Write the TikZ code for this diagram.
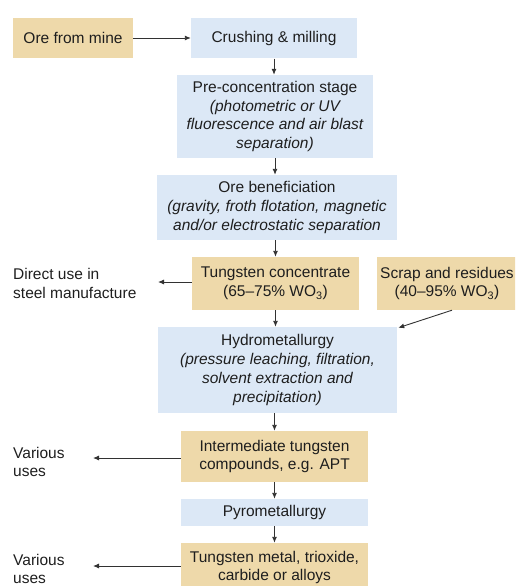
\documentclass[tikz,border=0pt]{standalone}
\usepackage{fontspec}
\setmainfont{Liberation Sans}
\usetikzlibrary{arrows.meta}
\definecolor{tan}{RGB}{238,217,170}
\definecolor{lblue}{RGB}{220,232,246}
\definecolor{ink}{RGB}{30,30,30}
\definecolor{arrowgray}{RGB}{50,50,50}
\begin{document}
\begin{tikzpicture}[x=1pt,y=-1pt,
  every node/.style={font=\fontsize{15.5}{18.8}\selectfont, text=ink},
  boxbase/.style={rectangle, inner sep=0pt, align=center},
  tanbox/.style={boxbase, fill=tan},
  bluebox/.style={boxbase, fill=lblue},
  plain/.style={inner sep=0pt, align=left, anchor=west},
  arr/.style={draw=arrowgray, line width=0.9pt, -{Latex[length=6pt,width=5pt]}}
]
\useasboundingbox (0,0) rectangle (515,586);
\clip (0,0) rectangle (515,586);

\node[tanbox, minimum width=120pt, minimum height=40pt] (ore) at (73,38) {Ore from mine};
\node[bluebox, minimum width=166pt, minimum height=40pt] (crush) at (274,38.5) {Crushing \& milling};
\node[bluebox, minimum width=196pt, minimum height=83pt] (pre) at (275,116.5)
  {Pre-concentration stage\\\itshape (photometric or UV\\\itshape fluorescence and air blast\\\itshape separation)};
\node[bluebox, minimum width=240pt, minimum height=65pt] (benef) at (277,207.5)
  {Ore beneficiation\\\itshape (gravity, froth flotation, magnetic\\\itshape and/or electrostatic separation};
\node[tanbox, minimum width=167pt, minimum height=53pt] (tconc) at (275.5,283.5)
  {Tungsten concentrate\\(65–75\% WO\textsubscript{3})};
\node[tanbox, minimum width=140pt, minimum height=53pt] (scrap) at (447,283.5)
  {Scrap and residues\\(40–95\% WO\textsubscript{3})};
\node[plain] (direct) at (13,283.7) {Direct use in\\steel manufacture};
\node[bluebox, minimum width=239pt, minimum height=86pt] (hydro) at (277.5,370)
  {Hydrometallurgy\\\itshape (pressure leaching, filtration,\\\itshape solvent extraction and\\\itshape precipitation)};
\node[tanbox, minimum width=187pt, minimum height=51pt] (inter) at (274.5,456.5)
  {Intermediate tungsten\\compounds, e.g. APT};
\node[plain] (var1) at (13,462) {Various\\uses};
\node[bluebox, minimum width=187pt, minimum height=27pt] (pyro) at (274.5,512.5) {Pyrometallurgy};
\node[tanbox, minimum width=187pt, minimum height=49pt] (metal) at (274.5,567.5)
  {Tungsten metal, trioxide,\\carbide or alloys};
\node[plain] (var2) at (13,569) {Various\\uses};

\coordinate (d1) at (158,282);
\coordinate (v1) at (93,458);
\coordinate (v2) at (93,566);

\draw[arr] (ore.east) -- (crush.west |- ore.east);
\draw[arr] (crush.south) -- (crush.south |- pre.north);
\draw[arr] (pre.south) -- (pre.south |- benef.north);
\draw[arr] (tconc.north |- benef.south) -- (tconc.north);
\draw[arr] (tconc.south) -- (tconc.south |- hydro.north);
\draw[arr] (tconc.west |- d1) -- (d1);
\draw[arr] ([xshift=5pt]scrap.south) -- ([xshift=1pt,yshift=-1pt]hydro.north east);
\draw[arr] (inter.north |- hydro.south) -- (inter.north);
\draw[arr] (inter.west |- v1) -- (v1);
\draw[arr] (inter.south) -- (pyro.north);
\draw[arr] (pyro.south) -- (metal.north);
\draw[arr] (metal.west |- v2) -- (v2);
\end{tikzpicture}
\end{document}
